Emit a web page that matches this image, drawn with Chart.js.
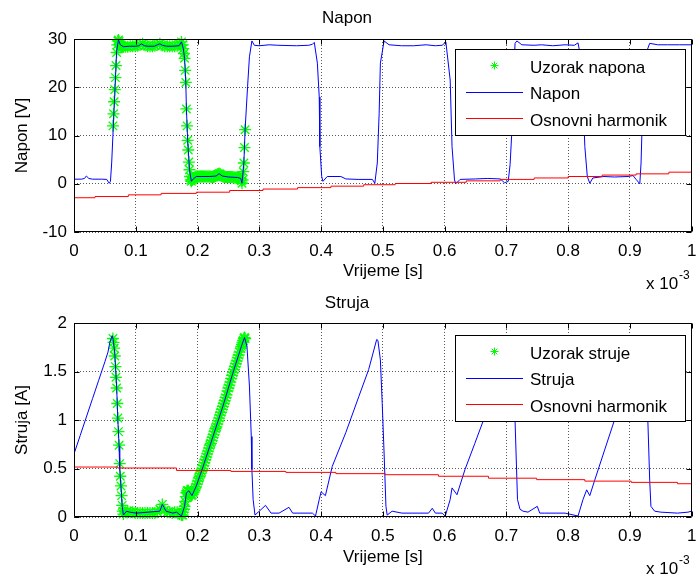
<!DOCTYPE html>
<html>
<head>
<meta charset="utf-8">
<script src="https://cdn.jsdelivr.net/npm/chart.js@4.4.1/dist/chart.umd.min.js"></script>
<style>
  html, body { margin: 0; padding: 0; background: #fff; }
  canvas { display: block; }
</style>
</head>
<body>
<canvas id="napon" width="699" height="290"></canvas>
<canvas id="struja" width="699" height="287"></canvas>
<script>
// time axis is in ms (shown as 0..1 with the "x 10^-3" exponent)
const xTicks = [0, 0.1, 0.2, 0.3, 0.4, 0.5, 0.6, 0.7, 0.8, 0.9, 1]
const voltTicks = [-10, 0, 10, 20, 30]
const currTicks = [0, 0.5, 1, 1.5, 2]

// Napon (blue)
const voltT = [
  0, 0.012, 0.017, 0.02, 0.024, 0.03, 0.045, 0.053, 0.057, 0.059,
  0.061, 0.063, 0.066, 0.069, 0.072, 0.075, 0.08, 0.09, 0.1, 0.105,
  0.109, 0.114, 0.12, 0.13, 0.135, 0.139, 0.143, 0.15, 0.16, 0.17,
  0.174, 0.177, 0.179, 0.181, 0.182, 0.184, 0.187, 0.19, 0.193, 0.198,
  0.22, 0.23, 0.235, 0.24, 0.25, 0.265, 0.27, 0.272, 0.275, 0.277,
  0.281, 0.284, 0.288, 0.292, 0.3, 0.316, 0.33, 0.36, 0.38, 0.386,
  0.389, 0.394, 0.397, 0.398, 0.401, 0.403, 0.41, 0.432, 0.44, 0.46,
  0.483, 0.487, 0.491, 0.494, 0.496, 0.502, 0.51, 0.53, 0.55, 0.57,
  0.585, 0.596, 0.602, 0.609, 0.612, 0.616, 0.618, 0.625, 0.65, 0.67,
  0.69, 0.697, 0.703, 0.706, 0.709, 0.714, 0.717, 0.725, 0.745, 0.757,
  0.775, 0.795, 0.81, 0.816, 0.822, 0.827, 0.831, 0.835, 0.84, 0.858,
  0.875, 0.897, 0.905, 0.91, 0.916, 0.918, 0.921, 0.924, 0.932, 0.945,
  0.961, 0.98, 1.0
]
const voltV = [
  0.95, 0.95, 1.1, 1.6, 1.1, 0.95, 0.95, 0.9, 0.1, 0.5,
  4.3, 10, 18.5, 27.5, 29.8, 28.8, 28.4, 28.5, 28.5, 28.6,
  29.0, 28.6, 28.5, 28.5, 28.8, 29.0, 28.7, 28.5, 28.5, 28.6,
  29.4, 28.0, 26.0, 21.0, 15.5, 9.0, 2.9, 0.5, 1.0, 1.5,
  1.5, 1.6, 2.1, 1.6, 1.4, 1.3, 1.1, 0.1, 4.3, 11.2,
  20.1, 26.3, 29.6, 28.7, 28.6, 28.8, 28.7, 28.6, 28.7, 28.9,
  29.3, 25, 18, 7.7, 1.5, 0.5, 1.5, 1.5, 1.0, 0.9,
  0.9, 0.1, 4.3, 14.6, 25, 29.6, 28.8, 28.6, 28.6, 28.8,
  28.6, 28.7, 29.4, 21.5, 7.7, 0.8, 0.0, 0.9, 1.0, 1.1,
  1.0, 0.2, 0.5, 4, 11.2, 29.1, 29.6, 28.8, 28.7, 28.8,
  28.6, 28.8, 28.7, 29.2, 25.0, 7.7, 1.5, 0.1, 1.2, 1.5,
  1.4, 1.5, 1.7, 0.9, 0.0, 4.3, 18, 26.3, 29.1, 28.8,
  28.8, 28.8, 28.8
]

// Struja (blue)
const currT = [
  0, 0.01, 0.02, 0.03, 0.04, 0.05, 0.055, 0.058, 0.0618, 0.0634,
  0.066, 0.069, 0.071, 0.073, 0.074, 0.076, 0.078, 0.08, 0.085, 0.09,
  0.101, 0.139, 0.143, 0.149, 0.16, 0.166, 0.174, 0.179, 0.182, 0.186,
  0.191, 0.198, 0.209, 0.225, 0.241, 0.257, 0.271, 0.276, 0.28, 0.284,
  0.287, 0.288, 0.29, 0.293, 0.3, 0.31, 0.319, 0.332, 0.348, 0.354,
  0.386, 0.391, 0.397, 0.4, 0.407, 0.418, 0.44, 0.461, 0.477, 0.49,
  0.492, 0.496, 0.499, 0.502, 0.505, 0.507, 0.515, 0.531, 0.574, 0.58,
  0.585, 0.596, 0.601, 0.609, 0.612, 0.62, 0.633, 0.649, 0.663, 0.69,
  0.705, 0.709, 0.712, 0.714, 0.717, 0.718, 0.722, 0.727, 0.735, 0.75,
  0.754, 0.762, 0.795, 0.816, 0.824, 0.83, 0.835, 0.843, 0.859, 0.875,
  0.9, 0.915, 0.919, 0.923, 0.929, 0.932, 0.934, 0.94, 0.95, 0.977,
  0.994, 1.0
]
const currI = [
  0.65, 0.84, 1.03, 1.22, 1.41, 1.6, 1.7, 1.8, 1.87, 1.83,
  1.69, 1.35, 1.0, 0.73, 0.49, 0.32, 0.11, 0.02, 0.06, 0.05,
  0.04, 0.06, 0.13, 0.06, 0.04, 0.05, 0.01, 0.11, 0.25, 0.27,
  0.22, 0.32, 0.52, 0.83, 1.14, 1.48, 1.76, 1.85, 1.76, 1.35,
  0.83, 0.49, 0.18, 0.02, 0.06, 0.12, 0.04, 0.04, 0.1, 0.04,
  0.04, 0.01, 0.18, 0.26, 0.22, 0.52, 0.87, 1.24, 1.52, 1.83,
  1.82, 1.62, 1.17, 0.66, 0.11, 0.02, 0.06, 0.04, 0.04, 0.09,
  0.04, 0.04, 0.01, 0.18, 0.3, 0.23, 0.49, 0.76, 1.0, 1.5,
  1.8, 1.82, 1.6, 1.0, 0.38, 0.18, 0.08, 0.06, 0.05, 0.11,
  0.04, 0.04, 0.04, 0.01, 0.18, 0.28, 0.22, 0.38, 0.69, 1.0,
  1.5, 1.8, 1.83, 1.7, 1.0, 0.38, 0.11, 0.06, 0.05, 0.04,
  0.05, 0.06
]

// Uzorak (green samples, one period)
const sampleT = [
  0.063, 0.064, 0.065, 0.066, 0.067, 0.068, 0.069, 0.070, 0.071, 0.072,
  0.073, 0.074, 0.075, 0.076, 0.077, 0.078, 0.079, 0.080,
  0.083, 0.087, 0.091, 0.095, 0.099, 0.103, 0.107, 0.111, 0.115, 0.119,
  0.123, 0.127, 0.131, 0.135, 0.139, 0.143, 0.147, 0.151, 0.155, 0.159,
  0.163, 0.167, 0.171, 0.174,
  0.176, 0.177, 0.178, 0.179, 0.180, 0.181, 0.182, 0.183, 0.184, 0.185,
  0.186, 0.187, 0.188, 0.189, 0.190,
  0.1915, 0.193, 0.1945, 0.196, 0.1975, 0.199, 0.2005, 0.202, 0.2035, 0.205,
  0.2065, 0.208, 0.2095, 0.211, 0.2125, 0.214, 0.2155, 0.217, 0.2185, 0.220,
  0.2215, 0.223, 0.2245, 0.226, 0.2275, 0.229, 0.2305, 0.232, 0.2335, 0.235,
  0.2365, 0.238, 0.2395, 0.241, 0.2425, 0.244, 0.2455, 0.247, 0.2485, 0.250,
  0.2515, 0.253, 0.2545, 0.256, 0.2575, 0.259, 0.2605, 0.262, 0.2635, 0.265,
  0.2665, 0.268,
  0.270, 0.271, 0.272, 0.273, 0.274, 0.275, 0.276, 0.277
]
const sampleV = [
  12.0, 14.5, 17.0, 19.5, 22.0, 24.5, 27.2, 28.8, 29.6, 29.8,
  29.5, 29.0, 28.7, 28.5, 28.5, 28.5, 28.4, 28.4,
  28.4, 28.4, 28.5, 28.5, 28.5, 28.6, 28.8, 29.0, 28.7, 28.5,
  28.5, 28.5, 28.6, 28.8, 29.0, 28.7, 28.5, 28.5, 28.5, 28.5,
  28.5, 28.6, 28.9, 29.4,
  28.8, 28.0, 27.0, 26.0, 23.5, 21.0, 15.5, 12.0, 9.0, 7.0,
  4.5, 2.9, 1.5, 0.8, 0.5,
  0.8, 1.0, 1.2, 1.4, 1.5, 1.5, 1.5, 1.5, 1.5, 1.5,
  1.5, 1.5, 1.5, 1.5, 1.5, 1.5, 1.5, 1.5, 1.5, 1.5,
  1.45, 1.4, 1.4, 1.4, 1.5, 1.6, 1.75, 1.9, 2.0, 2.1,
  2.0, 1.8, 1.6, 1.5, 1.45, 1.4, 1.4, 1.4, 1.4, 1.4,
  1.4, 1.4, 1.4, 1.4, 1.35, 1.3, 1.3, 1.3, 1.3, 1.3,
  1.25, 1.2,
  1.1, 0.6, 0.1, 0.8, 2.5, 4.3, 7.5, 11.2
]
const sampleI = [
  1.84, 1.80, 1.74, 1.66, 1.55, 1.44, 1.33, 1.17, 1.02, 0.88,
  0.74, 0.55, 0.42, 0.32, 0.22, 0.12, 0.06, 0.03,
  0.05, 0.06, 0.05, 0.05, 0.04, 0.04, 0.04, 0.04, 0.04, 0.04,
  0.04, 0.04, 0.04, 0.05, 0.08, 0.13, 0.07, 0.05, 0.05, 0.04,
  0.05, 0.05, 0.03, 0.02,
  0.02, 0.05, 0.08, 0.11, 0.16, 0.21, 0.25, 0.27, 0.27, 0.27,
  0.26, 0.25, 0.24, 0.23, 0.22,
  0.23, 0.25, 0.27, 0.29, 0.31, 0.34, 0.37, 0.40, 0.42, 0.45,
  0.47, 0.50, 0.53, 0.56, 0.59, 0.62, 0.65, 0.68, 0.71, 0.74,
  0.76, 0.79, 0.82, 0.85, 0.88, 0.91, 0.93, 0.96, 0.99, 1.02,
  1.05, 1.08, 1.11, 1.14, 1.17, 1.20, 1.23, 1.26, 1.30, 1.33,
  1.36, 1.39, 1.43, 1.46, 1.49, 1.52, 1.55, 1.58, 1.61, 1.64,
  1.67, 1.70,
  1.74, 1.76, 1.78, 1.80, 1.82, 1.84, 1.85, 1.84
]

// Osnovni harmonik (red, quantised steps)
const harmUT = [0, 0.034, 0.088, 0.141, 0.198, 0.252, 0.306, 0.362, 0.416, 0.469, 0.52, 0.578, 0.635, 0.69, 0.745, 0.8, 0.855, 0.91, 0.963, 1.0]
const harmUV = [-2.9, -2.65, -2.3, -2.0, -1.75, -1.4, -1.1, -0.8, -0.5, -0.2, 0.05, 0.3, 0.6, 0.9, 1.2, 1.5, 1.8, 2.05, 2.4, 2.4]
const harmIT = [0, 0.071, 0.166, 0.254, 0.343, 0.424, 0.504, 0.59, 0.671, 0.749, 0.827, 0.902, 0.977, 1.0]
const harmIV = [0.515, 0.505, 0.48, 0.47, 0.46, 0.447, 0.436, 0.42, 0.40, 0.385, 0.37, 0.357, 0.343, 0.343]

const GREEN = "#00ff00", BLUE = "#0000ff", RED = "#ff0000"
const FONT = "'Liberation Sans', Arial, Helvetica, sans-serif"
Chart.defaults.font.family = FONT
Chart.defaults.font.size = 17
Chart.defaults.color = "#000"

const pts = (xs, ys) => xs.map((x, i) => ({ x, y: ys[i] }))

// legend entries per canvas, kept out of the option resolver
const legendItems = {
  napon: [
    { label: "Uzorak napona", color: GREEN, marker: true },
    { label: "Napon", color: BLUE },
    { label: "Osnovni harmonik", color: RED }
  ],
  struja: [
    { label: "Uzorak struje", color: GREEN, marker: true },
    { label: "Struja", color: BLUE },
    { label: "Osnovni harmonik", color: RED }
  ]
}

// MATLAB-like box, inward ticks, boxed legend and the x10^-3 exponent
const matlabAxes = {
  id: "matlabAxes",
  afterDatasetsDraw(chart, args, opts) {
    const { ctx, chartArea: a, scales } = chart
    const L = Math.round(a.left) + 0.5
    const R = Math.round(a.right) - 0.5
    const T = Math.round(a.top) + 0.5
    const B = Math.round(a.bottom) - 0.5
    ctx.save()
    ctx.setLineDash([])
    ctx.strokeStyle = "#000"
    ctx.lineWidth = 1
    ctx.beginPath()
    for (const t of scales.x.ticks) {
      const px = Math.round(scales.x.getPixelForValue(t.value)) + 0.5
      ctx.moveTo(px, B); ctx.lineTo(px, B - 5)
      ctx.moveTo(px, T); ctx.lineTo(px, T + 5)
    }
    for (const t of scales.y.ticks) {
      const py = Math.round(scales.y.getPixelForValue(t.value)) + 0.5
      ctx.moveTo(L, py); ctx.lineTo(L + 5, py)
      ctx.moveTo(R, py); ctx.lineTo(R - 5, py)
    }
    ctx.rect(L, T, R - L, B - T)
    ctx.stroke()

    // legend box
    const bw = 230, bh = 86
    const bx = Math.round(a.right) - 237, by = Math.round(a.top) + opts.legendTop
    ctx.fillStyle = "#fff"
    ctx.fillRect(bx, by, bw, bh)
    ctx.strokeStyle = "#000"
    ctx.strokeRect(bx + 0.5, by + 0.5, bw, bh)
    ctx.font = "17px " + FONT
    ctx.textBaseline = "middle"
    ctx.textAlign = "left"
    const items = legendItems[chart.canvas.id]
    for (let i = 0; i < items.length; i++) {
      const item = items[i]
      const ry = by + 19 + i * 26.5
      const ly = Math.round(ry - 3) + 0.5
      ctx.strokeStyle = item.color
      ctx.lineWidth = 1
      ctx.beginPath()
      if (item.marker) {
        const cx = bx + 39.5, r = 4
        ctx.moveTo(cx - r, ly); ctx.lineTo(cx + r, ly)
        ctx.moveTo(cx, ly - r); ctx.lineTo(cx, ly + r)
        ctx.moveTo(cx - r * 0.7, ly - r * 0.7); ctx.lineTo(cx + r * 0.7, ly + r * 0.7)
        ctx.moveTo(cx - r * 0.7, ly + r * 0.7); ctx.lineTo(cx + r * 0.7, ly - r * 0.7)
      } else {
        ctx.moveTo(bx + 11, ly); ctx.lineTo(bx + 68, ly)
      }
      ctx.stroke()
      ctx.fillStyle = "#000"
      ctx.fillText(item.label, bx + 75, ry)
    }

    // exponent of the time axis
    ctx.fillStyle = "#000"
    ctx.font = "17px " + FONT
    ctx.fillText("x 10", Math.round(a.right) - 46, Math.round(a.bottom) + 52)
    ctx.font = "12px " + FONT
    ctx.fillText("-3", Math.round(a.right) - 13, Math.round(a.bottom) + 44)
    ctx.restore()
  }
}

function axisOptions(ticks) {
  return {
    afterBuildTicks: scale => { scale.ticks = ticks.map(v => ({ value: v })) },
    grid: { color: "rgba(0,0,0,0.65)", lineWidth: 1, drawTicks: false },
    border: { display: false, dash: [1, 2] }
  }
}

function makeChart(id, o) {
  return new Chart(document.getElementById(id), {
    type: "line",
    data: {
      datasets: [
        {
          label: o.sampleLabel,
          data: pts(sampleT, o.sample),
          showLine: false,
          pointStyle: "star",
          pointRadius: 6,
          pointBorderWidth: 1.3,
          borderColor: GREEN,
          backgroundColor: GREEN,
          clip: false,
          order: 3
        },
        {
          label: o.signalLabel,
          data: pts(o.signalT, o.signal),
          borderColor: BLUE,
          borderWidth: 1,
          pointRadius: 0,
          tension: 0,
          order: 2
        },
        {
          label: "Osnovni harmonik",
          data: pts(o.harmT, o.harm),
          borderColor: RED,
          borderWidth: 1,
          pointRadius: 0,
          stepped: true,
          order: 1
        }
      ]
    },
    options: {
      responsive: false,
      animation: false,
      events: [],
      layout: { padding: { left: 0, right: 5, top: 0, bottom: 0 } },
      plugins: {
        legend: { display: false },
        tooltip: { enabled: false },
        title: {
          display: true,
          text: o.title,
          font: { size: 17, weight: "normal" },
          padding: o.titlePad
        },
        matlabAxes: { legendTop: o.legendTop }
      },
      scales: {
        x: Object.assign(axisOptions(xTicks), {
          type: "linear",
          min: 0,
          max: 1,
          afterFit: s => { s.height = o.xHeight; s.paddingLeft = 0; s.paddingRight = 0 },
          ticks: { padding: 9, autoSkip: false, maxRotation: 0, callback: v => String(v) },
          title: { display: true, text: "Vrijeme [s]", padding: { top: 0, bottom: o.xTitleBottom } }
        }),
        y: Object.assign(axisOptions(o.yTicks), {
          type: "linear",
          min: o.yMin,
          max: o.yMax,
          afterFit: s => { s.width = 74 },
          ticks: { padding: 7, callback: v => String(v) },
          title: { display: true, text: o.yTitle, padding: { top: 12, bottom: 0 } }
        })
      }
    },
    plugins: [matlabAxes]
  })
}

makeChart("napon", {
  title: "Napon",
  titlePad: { top: 8, bottom: 10.6 },
  yTitle: "Napon [V]",
  yTicks: voltTicks, yMin: -10, yMax: 30,
  sampleLabel: "Uzorak napona", sample: sampleV,
  signalLabel: "Napon", signalT: voltT, signal: voltV,
  harmT: harmUT, harm: harmUV,
  xHeight: 58, xTitleBottom: 8,
  legendTop: 10
})

makeChart("struja", {
  title: "Struja",
  titlePad: { top: 2.8, bottom: 9.8 },
  yTitle: "Struja [A]",
  yTicks: currTicks, yMin: 0, yMax: 2,
  sampleLabel: "Uzorak struje", sample: sampleI,
  signalLabel: "Struja", signalT: currT, signal: currI,
  harmT: harmIT, harm: harmIV,
  xHeight: 60, xTitleBottom: 9.8,
  legendTop: 12
})
</script>
</body>
</html>
